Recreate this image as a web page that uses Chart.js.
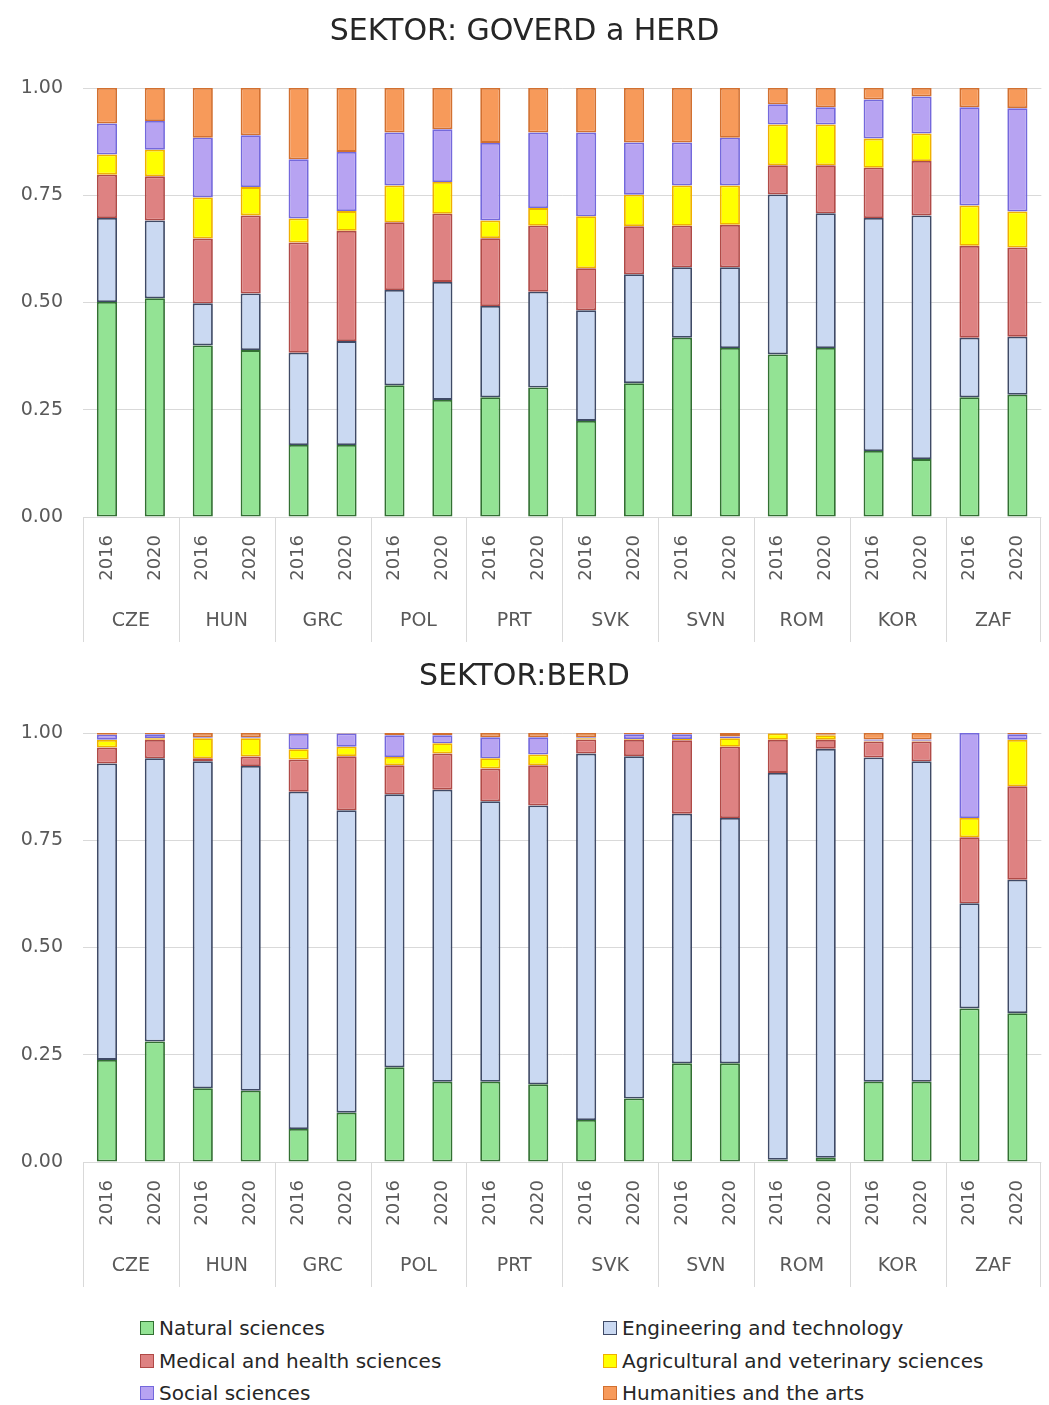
<!DOCTYPE html>
<html><head><meta charset="utf-8">
<script src="https://cdn.jsdelivr.net/npm/chart.js@4.4.1/dist/chart.umd.min.js"></script>
<style>
html,body{margin:0;padding:0;background:#fff;}
body{width:1049px;height:1405px;position:relative;overflow:hidden;font-family:"DejaVu Sans",sans-serif;}
.box{position:absolute;left:0;width:1049px;height:645px;}
#legend{position:absolute;left:0;top:1305px;width:1049px;height:100px;}
.item{position:absolute;font-size:20px;color:#262626;display:flex;align-items:center;white-space:nowrap;height:26px;}
.sw{width:14px;height:14px;border:1.5px solid;margin-right:5px;box-sizing:border-box;}
</style></head><body>
<div class="box" style="top:0"><canvas id="c1"></canvas></div>
<div class="box" style="top:645px"><canvas id="c2"></canvas></div>
<div id="legend"></div>
<script>
// ---- data ----
const countries = ['CZE','HUN','GRC','POL','PRT','SVK','SVN','ROM','KOR','ZAF'];
const years = ['2016','2020'];
const fields = ['Natural sciences','Engineering and technology','Medical and health sciences','Agricultural and veterinary sciences','Social sciences','Humanities and the arts'];
const yTickStep = 0.25;

// SEKTOR: GOVERD a HERD (order: CZE16, CZE20, HUN16, HUN20, ... ZAF20)
const goverdNatural     = [.501,.510,.400,.389,.168,.168,.307,.273,.279,.302,.224,.312,.418,.394,.379,.394,.154,.135,.279,.285];
const goverdEngineering = [.196,.181,.098,.132,.215,.242,.222,.275,.213,.223,.258,.254,.164,.188,.373,.314,.543,.568,.139,.135];
const goverdMedical     = [.101,.103,.151,.182,.257,.257,.158,.159,.158,.154,.098,.112,.097,.099,.068,.112,.117,.127,.214,.208];
const goverdAgri        = [.047,.062,.096,.066,.056,.046,.086,.074,.041,.041,.121,.073,.094,.092,.095,.095,.068,.064,.094,.084];
const goverdSocial      = [.072,.067,.139,.121,.138,.138,.123,.123,.181,.176,.195,.122,.100,.111,.047,.040,.091,.086,.229,.241];
const goverdHumanities  = [.083,.077,.116,.110,.166,.149,.104,.096,.128,.104,.104,.127,.127,.116,.038,.045,.027,.020,.045,.047];

// SEKTOR: BERD
const berdNatural     = [.238,.281,.172,.166,.077,.115,.221,.187,.187,.181,.098,.148,.230,.230,.005,.010,.187,.187,.358,.347];
const berdEngineering = [.691,.660,.762,.757,.786,.705,.636,.681,.654,.650,.854,.798,.582,.572,.902,.953,.756,.747,.245,.311];
const berdMedical     = [.037,.043,.007,.022,.075,.126,.068,.084,.076,.094,.033,.038,.171,.166,.077,.021,.037,.046,.154,.218];
const berdAgri        = [.018,.004,.047,.043,.024,.022,.019,.024,.024,.025,.003,.002,.003,.020,.015,.011,.002,.002,.045,.108];
const berdSocial      = [.012,.009,.002,.002,.036,.031,.051,.019,.049,.040,.002,.011,.011,.004,.000,.001,.003,.003,.198,.013];
const berdHumanities  = [.004,.003,.010,.010,.002,.001,.005,.005,.010,.010,.010,.003,.003,.008,.001,.004,.015,.015,.000,.003];

// ---- styles ----
const fills   = ['#93E394','#CAD9F2','#DE8282','#FFFF00','#B7A3F2','#F79A5A'];
const borders = ['#327032','#3F4A66','#B04A47','#F0B000','#7468DC','#D27030'];
const FONT = '"DejaVu Sans", sans-serif';
const labels = [];
countries.forEach(() => years.forEach(y => labels.push(y)));

const groupSeparators = {
  id: 'groupSeparators',
  afterDraw(chart) {
    const x = chart.scales.x, x2 = chart.scales.x2, ctx = chart.ctx;
    const n = chart.data.labels.length;
    ctx.save();
    ctx.strokeStyle = '#D9D9D9';
    ctx.lineWidth = 1;
    for (let i = 0; i <= n; i += years.length) {
      let px;
      if (i === 0) px = x.left;
      else if (i === n) px = x.right - 1;
      else px = (x.getPixelForValue(i - 1) + x.getPixelForValue(i)) / 2;
      px = Math.round(px) + 0.5;
      ctx.beginPath();
      ctx.moveTo(px, x.top);
      ctx.lineTo(px, x2.bottom);
      ctx.stroke();
    }
    ctx.restore();
  }
};

function makeChart(id, title, series) {
  return new Chart(document.getElementById(id), {
    type: 'bar',
    data: {
      labels: labels,
      datasets: series.map((d, i) => ({
        label: fields[i], data: d,
        backgroundColor: fills[i], borderColor: borders[i],
        borderWidth: 1.8, borderSkipped: false,
        barPercentage: 0.42, categoryPercentage: 1.0
      }))
    },
    options: {
      responsive: true, maintainAspectRatio: false, animation: false,
      layout: { padding: { left: 0, right: 0, top: 0, bottom: 3 } },
      plugins: {
        legend: { display: false },
        tooltip: { enabled: false },
        title: { display: true, text: title, color: '#262626',
                 font: { family: FONT, size: 30, weight: 'normal' },
                 padding: { top: 14, bottom: 38 } }
      },
      scales: {
        x: {
          stacked: true, offset: true,
          grid: { display: false }, border: { display: false },
          ticks: { minRotation: 90, maxRotation: 90, autoSkip: false, padding: 10,
                   color: '#595959', font: { family: FONT, size: 18 } },
          afterFit: s => { s.height = 80; }
        },
        x2: {
          type: 'category', labels: countries, position: 'bottom', offset: true,
          grid: { display: false }, border: { display: false },
          ticks: { autoSkip: false, maxRotation: 0, padding: 5,
                   color: '#595959', font: { family: FONT, size: 19 } },
          afterFit: s => { s.height = 45; }
        },
        y: {
          stacked: true, min: 0, max: 1,
          ticks: { stepSize: yTickStep, padding: 20, color: '#595959',
                   font: { family: FONT, size: 19 }, callback: v => Number(v).toFixed(2) },
          grid: { color: '#D9D9D9', drawTicks: false, lineWidth: 1 },
          border: { display: false },
          afterFit: s => { s.width = 83; }
        }
      }
    },
    plugins: [groupSeparators]
  });
}

makeChart('c1', 'SEKTOR: GOVERD a HERD',
  [goverdNatural, goverdEngineering, goverdMedical, goverdAgri, goverdSocial, goverdHumanities]);
makeChart('c2', 'SEKTOR:BERD',
  [berdNatural, berdEngineering, berdMedical, berdAgri, berdSocial, berdHumanities]);

// ---- legend ----
const leg = document.getElementById('legend');
const colX = [140, 603], rowY = [10, 43, 75];
fields.forEach((f, i) => {
  const it = document.createElement('div');
  it.className = 'item';
  it.style.left = colX[i % 2] + 'px';
  it.style.top = rowY[Math.floor(i / 2)] + 'px';
  const sw = document.createElement('span');
  sw.className = 'sw';
  sw.style.background = fills[i];
  sw.style.borderColor = borders[i];
  const tx = document.createElement('span');
  tx.textContent = f;
  it.appendChild(sw); it.appendChild(tx);
  leg.appendChild(it);
});
</script>
</body></html>
